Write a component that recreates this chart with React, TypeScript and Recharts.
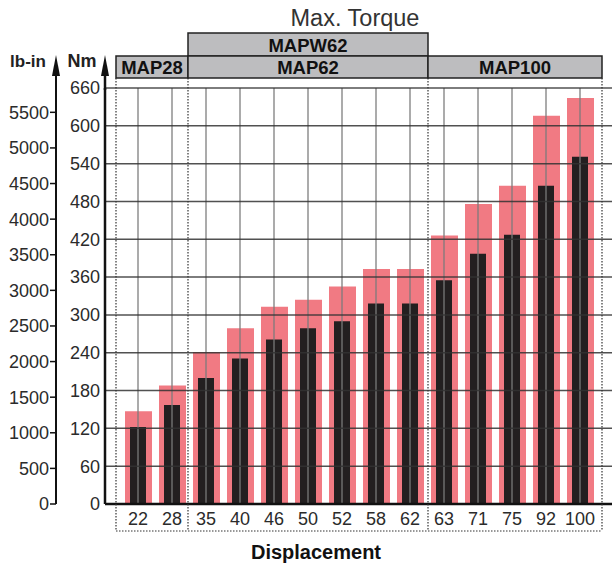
import React from 'react';
import { ComposedChart, Bar, XAxis, YAxis, ReferenceLine } from 'recharts';

// Displacement categories (cm³)
const categories = ['22', '28', '35', '40', '46', '50', '52', '58', '62', '63', '71', '75', '92', '100'];
// Peak (intermittent) torque, Nm
const peakTorque = [147, 188, 241, 279, 313, 324, 345, 373, 373, 426, 476, 505, 616, 644];
// Continuous torque, Nm
const contTorque = [122, 157, 200, 231, 261, 279, 290, 318, 318, 355, 397, 427, 505, 551];
// Tick labels
const nmTicks = [0, 60, 120, 180, 240, 300, 360, 420, 480, 540, 600, 660];
const lbTicks = [0, 500, 1000, 1500, 2000, 2500, 3000, 3500, 4000, 4500, 5000, 5500];
const NM_PER_LBIN = 0.112985;
const NM_MAX = 660;

const data = categories.map((c, i) => ({ disp: c, peak: peakTorque[i], cont: contTorque[i] }));

const FONT = "'Liberation Sans', Arial, Helvetica, sans-serif";
const TEXT = '#2b2b2b';

export default function App() {
  return (
    <div style={{ position: 'absolute', left: 0, top: 0, width: 612, height: 566, background: '#fff', fontFamily: FONT }}>
      <ComposedChart
        width={612}
        height={566}
        data={data}
        margin={{ top: 88, right: 0, left: 8, bottom: 32 }}
        barCategoryGap={0}
      >
        <XAxis
          xAxisId="a"
          dataKey="disp"
          padding={{ left: 16, right: 15 }}
          height={30}
          interval={0}
          tickLine={false}
          tickSize={0}
          tickMargin={8}
          axisLine={{ stroke: '#111', strokeWidth: 2.5 }}
          tick={{ fill: TEXT, fontSize: 18, fontFamily: FONT }}
        />
        <XAxis xAxisId="b" dataKey="disp" padding={{ left: 16, right: 15 }} hide />
        <YAxis
          yAxisId="a_nm"
          domain={[0, NM_MAX]}
          ticks={nmTicks}
          interval={0}
          width={49}
          tickLine={false}
          tickSize={0}
          tickMargin={5}
          axisLine={{ stroke: '#111', strokeWidth: 2.5 }}
          tick={{ fill: TEXT, fontSize: 18, fontFamily: FONT }}
        />
        <YAxis
          yAxisId="z_lb"
          domain={[0, NM_MAX / NM_PER_LBIN]}
          ticks={lbTicks}
          interval={0}
          allowDataOverflow
          width={48}
          tickSize={6}
          tickMargin={1}
          tickLine={{ stroke: '#111', strokeWidth: 1.5 }}
          axisLine={{ stroke: '#111', strokeWidth: 2 }}
          tick={{ fill: TEXT, fontSize: 18, fontFamily: FONT }}
        />
        <Bar xAxisId="a" yAxisId="a_nm" dataKey="peak" fill="#f17a83" barSize={27} isAnimationActive={false} />
        <Bar xAxisId="b" yAxisId="a_nm" dataKey="cont" fill="#231f20" barSize={16} isAnimationActive={false} />
        {categories.map((c) => (
          <ReferenceLine
            key={'v' + c}
            xAxisId="a"
            yAxisId="a_nm"
            x={c}
            stroke="#7a7a7a"
            strokeOpacity={0.85}
            strokeWidth={1.5}
          />
        ))}
        {nmTicks.filter((t) => t > 0).map((t) => (
          <ReferenceLine
            key={'h' + t}
            xAxisId="a"
            yAxisId="a_nm"
            y={t}
            stroke="#333"
            strokeOpacity={0.85}
            strokeWidth={1.5}
          />
        ))}
      </ComposedChart>

      <svg
        width={612}
        height={566}
        style={{ position: 'absolute', left: 0, top: 0, pointerEvents: 'none' }}
        fontFamily={FONT}
      >
        {/* title */}
        <text x={355} y={26} textAnchor="middle" fontSize={23.5} fill="#333">Max. Torque</text>

        {/* axis unit labels */}
        <text x={28} y={67} textAnchor="middle" fontSize={17} fontWeight="bold" fill="#222">lb-in</text>
        <text x={82} y={67} textAnchor="middle" fontSize={18} fontWeight="bold" fill="#222">Nm</text>

        {/* axis arrows */}
        <line x1={56} y1={74} x2={56} y2={90} stroke="#111" strokeWidth={2} />
        <polygon points="56,55 52,76 60,76" fill="#111" />
        <line x1={105} y1={74} x2={105} y2={90} stroke="#111" strokeWidth={2.5} />
        <polygon points="105,55 101,76 109,76" fill="#111" />

        {/* header boxes */}
        <rect x={188} y={33} width={240} height={23} fill="#bdbdbf" stroke="#222" strokeWidth={1.5} />
        <rect x={116} y={56} width={72} height={22} fill="#bdbdbf" stroke="#222" strokeWidth={1.5} />
        <rect x={188} y={56} width={240} height={22} fill="#bdbdbf" stroke="#222" strokeWidth={1.5} />
        <rect x={428} y={56} width={174} height={22} fill="#bdbdbf" stroke="#222" strokeWidth={1.5} />
        <text x={308} y={52} textAnchor="middle" fontSize={18.5} fontWeight="bold" fill="#111">MAPW62</text>
        <text x={152} y={74} textAnchor="middle" fontSize={18.5} fontWeight="bold" fill="#111">MAP28</text>
        <text x={308} y={74} textAnchor="middle" fontSize={18.5} fontWeight="bold" fill="#111">MAP62</text>
        <text x={515} y={74} textAnchor="middle" fontSize={18.5} fontWeight="bold" fill="#111">MAP100</text>

        {/* dotted group separators */}
        <g stroke="#333" strokeWidth={1.2} strokeDasharray="1.5 1.5" fill="none">
          <line x1={116} y1={78} x2={116} y2={531} />
          <line x1={188} y1={78} x2={188} y2={531} />
          <line x1={428} y1={78} x2={428} y2={531} />
          <line x1={602} y1={78} x2={602} y2={531} />
          <line x1={116} y1={531} x2={602} y2={531} />
        </g>

        {/* x axis title */}
        <text x={316} y={559} textAnchor="middle" fontSize={20} fontWeight="bold" fill="#111">Displacement</text>
      </svg>
    </div>
  );
}
